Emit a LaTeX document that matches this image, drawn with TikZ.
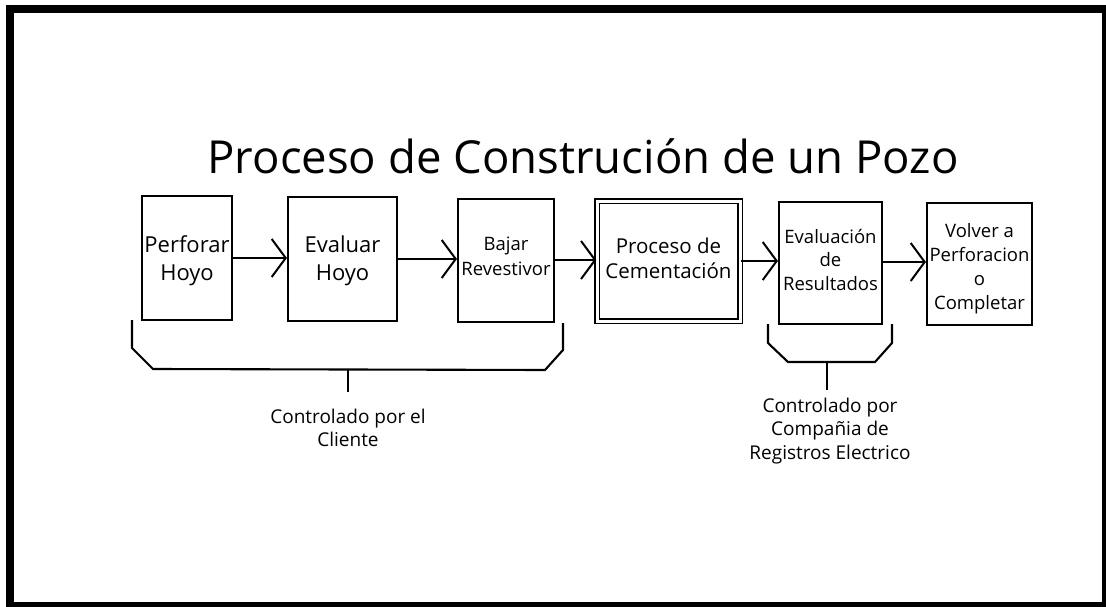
\documentclass[tikz,border=0pt]{standalone}
\usepackage{fontspec}
\setmainfont{Open Sans}
\usetikzlibrary{arrows.meta}
\begin{document}
\begin{tikzpicture}[x=1pt,y=-1pt,
  box/.style={draw,line width=2.1pt,inner sep=0pt,align=center},
  arr/.style={line width=2.1pt,-{Straight Barb[length=14pt,width=38pt,line width=2pt]}},
  brk/.style={line width=2.1pt},
  lbl/.style={align=center,inner sep=0pt}
]
\useasboundingbox (0,0) rectangle (1106,607);
\fill[black] (6,5) rectangle (1106,607);
\fill[white] (14,13) rectangle (1102,602);
\node[anchor=base,inner sep=0pt,font=\fontsize{45.5}{50}\selectfont] (title) at (583,174) {Proceso de Construción de un Pozo};
\node[box,minimum width=90pt,minimum height=124pt] (A) at (187,258) {};
\node[lbl,font=\fontsize{22}{28}\selectfont] (At) at (187,261) {Perforar\\Hoyo};
\node[box,minimum width=109pt,minimum height=124pt] (B) at (342.5,259) {};
\node[lbl,font=\fontsize{22}{28}\selectfont] (Bt) at (342.5,261) {Evaluar\\Hoyo};
\node[box,minimum width=96pt,minimum height=123pt] (C) at (506,260.5) {};
\node[lbl,font=\fontsize{18.5}{25}\selectfont] (Ct) at (506,256) {Bajar\\Revestivor};
\node[box,double,double distance=3pt,line width=1.4pt,minimum width=143pt,minimum height=120pt] (D) at (668.5,261) {};
\node[lbl,font=\fontsize{20.5}{25}\selectfont] (Dt) at (668.5,258) {Proceso de\\Cementación};
\node[box,minimum width=103pt,minimum height=122pt] (E) at (830.5,263) {};
\node[lbl,font=\fontsize{18.5}{23.5}\selectfont] (Et) at (830.5,260) {Evaluación\\de\\Resultados};
\node[box,minimum width=105pt,minimum height=122pt] (F) at (979.5,264) {};
\node[lbl,font=\fontsize{18.5}{24}\selectfont] (Ft) at (979.5,269) {Volver a\\Perforacion\\o\\Completar};
\draw[arr] (A.east |- 0,258) -- (B.west |- 0,258);
\draw[arr] (B.east |- 0,259) -- (C.west |- 0,259);
\draw[arr] (C.east |- 0,260) -- (D.west |- 0,260);
\draw[arr] (D.east |- 0,261) -- (E.west |- 0,261);
\draw[arr] (E.east |- 0,262) -- (F.west |- 0,262);
\coordinate (L1) at (132,320); \coordinate (L2) at (563,323);
\coordinate (Lm) at (348,370); \coordinate (Ls) at (348,392);
\draw[brk] (L1) -- (132,348) -- (153,369) -- (545,370) -- (563,350) -- (L2);
\draw[brk] (Lm) -- (Ls);
\coordinate (R1) at (768,324); \coordinate (R2) at (892,324);
\coordinate (Rm) at (827,362); \coordinate (Rs) at (827,390);
\draw[brk] (R1) -- (768,343) -- (788,362) -- (875,362) -- (892,343) -- (R2);
\draw[brk] (Rm) -- (Rs);
\node[lbl,font=\fontsize{19}{23}\selectfont] (cl) at (348,428) {Controlado por el\\Cliente};
\node[lbl,font=\fontsize{19}{23.5}\selectfont] (cr) at (830,431) {Controlado por\\Compañia de\\Registros Electrico};
\end{tikzpicture}
\end{document}
